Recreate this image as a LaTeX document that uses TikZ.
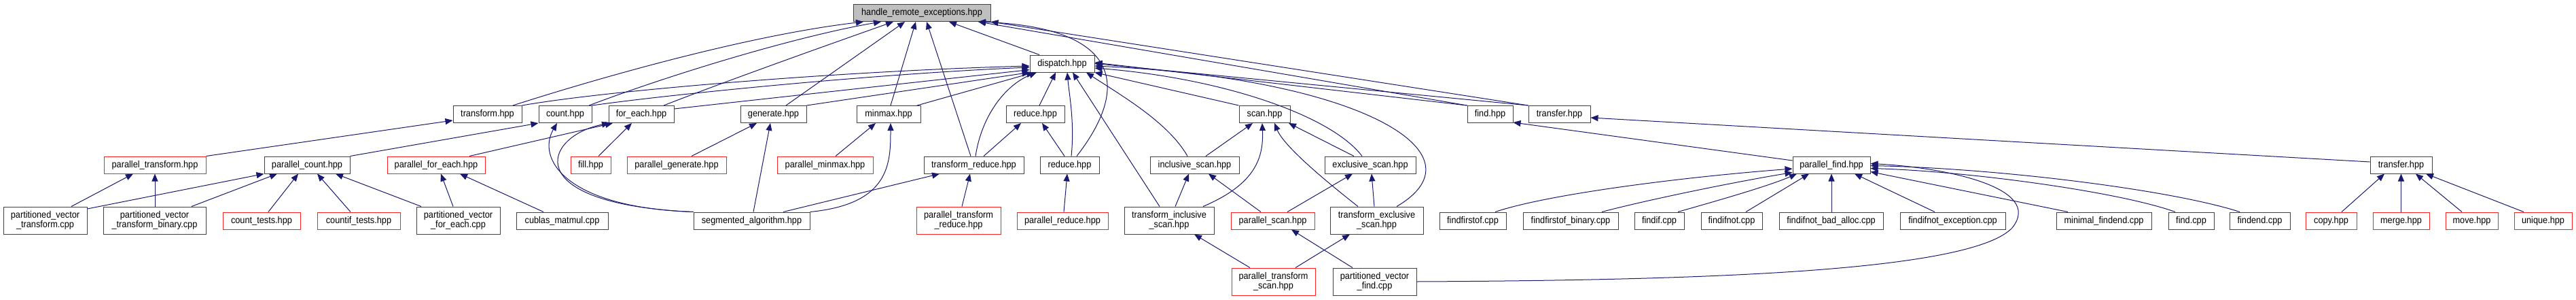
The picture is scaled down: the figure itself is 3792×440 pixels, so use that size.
\documentclass[tikz,border=0pt]{standalone}
\usepackage{fontspec}
\newfontfamily\nfont[FakeStretch=0.91]{Liberation Sans}
\usetikzlibrary{arrows.meta}
\definecolor{navy}{HTML}{191970}
\definecolor{boxgray}{HTML}{404040}
\definecolor{boxred}{HTML}{FF2020}
\definecolor{hrefill}{HTML}{BFBFBF}
\tikzset{
  bx/.style={draw=boxgray, fill=white, line width=1pt, inner sep=0pt, minimum height=25pt,
             align=center, font=\nfont\fontsize{14}{14.5}\selectfont},
  rbx/.style={bx, draw=boxred},
  bxd/.style={minimum height=40pt},
  lnk/.style={draw=navy, line width=1pt, -{Triangle[length=11pt,width=9pt]}}
}
\begin{document}
\begin{tikzpicture}[x=1pt,y=-1pt]
\fill[white] (0,0) rectangle (3792,440);
\useasboundingbox (0,0) rectangle (3792,440);
% row 0,1
\node[bx,fill=hrefill,minimum width=202pt] (hre) at (1357,19) {handle\_remote\_exceptions.hpp};
\node[bx,minimum width=95pt] (dispatch) at (1563.5,93.5) {dispatch.hpp};
% row 2
\node[bx,minimum width=101pt] (transform) at (717.5,168) {transform.hpp};
\node[bx,minimum width=78pt] (count) at (832,168) {count.hpp};
\node[bx,minimum width=96pt] (foreach) at (944,168) {for\_each.hpp};
\node[bx,minimum width=97pt] (generate) at (1138.5,168) {generate.hpp};
\node[bx,minimum width=94pt] (minmax) at (1308,168) {minmax.hpp};
\node[bx,minimum width=86pt] (reduceA) at (1524,168) {reduce.hpp};
\node[bx,minimum width=75pt] (scan) at (1861.5,168) {scan.hpp};
\node[bx,minimum width=67pt] (find) at (2193.5,168) {find.hpp};
\node[bx,minimum width=91pt] (transferA) at (2295.5,168) {transfer.hpp};
% row 3
\node[rbx,minimum width=150pt] (ptransform) at (228,242.5) {parallel\_transform.hpp};
\node[bx,minimum width=126pt] (pcount) at (452,242.5) {parallel\_count.hpp};
\node[rbx,minimum width=144pt] (pforeach) at (642,242.5) {parallel\_for\_each.hpp};
\node[rbx,minimum width=59pt] (fillh) at (869.5,242.5) {fill.hpp};
\node[rbx,minimum width=146pt] (pgenerate) at (996,242.5) {parallel\_generate.hpp};
\node[rbx,minimum width=141pt] (pminmax) at (1214.5,242.5) {parallel\_minmax.hpp};
\node[bx,minimum width=147pt] (treduce) at (1433.5,242.5) {transform\_reduce.hpp};
\node[bx,minimum width=87pt] (reduceB) at (1574.5,242.5) {reduce.hpp};
\node[bx,minimum width=131pt] (iscan) at (1758.5,242.5) {inclusive\_scan.hpp};
\node[bx,minimum width=134pt] (escan) at (2017,242.5) {exclusive\_scan.hpp};
\node[bx,minimum width=114pt] (pfind) at (2696,242.5) {parallel\_find.hpp};
\node[bx,minimum width=91pt] (transferB) at (3534.5,242.5) {transfer.hpp};
% row 4
\node[bx,bxd,minimum width=123pt] (pvt) at (66.5,324) {partitioned\_vector\\\_transform.cpp};
\node[bx,bxd,minimum width=151pt] (pvtb) at (227.5,324) {partitioned\_vector\\\_transform\_binary.cpp};
\node[rbx,minimum width=114pt] (counttests) at (385,324.5) {count\_tests.hpp};
\node[rbx,minimum width=122pt] (countiftests) at (528,324.5) {countif\_tests.hpp};
\node[bx,bxd,minimum width=123pt] (pvfe) at (674.5,324) {partitioned\_vector\\\_for\_each.cpp};
\node[bx,minimum width=135pt] (cublas) at (827.5,324.5) {cublas\_matmul.cpp};
\node[bx,minimum width=171pt] (segalg) at (1106.5,324.5) {segmented\_algorithm.hpp};
\node[rbx,bxd,minimum width=124pt] (ptreduce) at (1411,324) {parallel\_transform\\\_reduce.hpp};
\node[rbx,minimum width=134pt] (preduce) at (1564,324.5) {parallel\_reduce.hpp};
\node[bx,bxd,minimum width=132pt] (tiscan) at (1721,324) {transform\_inclusive\\\_scan.hpp};
\node[rbx,minimum width=123pt] (pscan) at (1873.5,324.5) {parallel\_scan.hpp};
\node[bx,bxd,minimum width=137pt] (tescan) at (2026.5,324) {transform\_exclusive\\\_scan.hpp};
\node[bx,minimum width=98pt] (findfirstof) at (2168,324.5) {findfirstof.cpp};
\node[bx,minimum width=140pt] (ffobin) at (2312,324.5) {findfirstof\_binary.cpp};
\node[bx,minimum width=73pt] (findif) at (2442.5,324.5) {findif.cpp};
\node[bx,minimum width=90pt] (findifnot) at (2549,324.5) {findifnot.cpp};
\node[bx,minimum width=153pt] (fnba) at (2695.5,324.5) {findifnot\_bad\_alloc.cpp};
\node[bx,minimum width=155pt] (fnex) at (2874.5,324.5) {findifnot\_exception.cpp};
\node[bx,minimum width=140pt] (minfe) at (3097,324.5) {minimal\_findend.cpp};
\node[bx,minimum width=67pt] (findcpp) at (3225.5,324.5) {find.cpp};
\node[bx,minimum width=89pt] (findendcpp) at (3326.5,324.5) {findend.cpp};
\node[rbx,minimum width=75pt] (copyh) at (3431.5,324.5) {copy.hpp};
\node[rbx,minimum width=83pt] (mergeh) at (3534.5,324.5) {merge.hpp};
\node[rbx,minimum width=77pt] (moveh) at (3638.5,324.5) {move.hpp};
\node[rbx,minimum width=85pt] (uniqueh) at (3743.5,324.5) {unique.hpp};
% row 5
\node[rbx,bxd,minimum width=123pt] (ptscan) at (1874.5,414) {parallel\_transform\\\_scan.hpp};
\node[bx,bxd,minimum width=123pt] (pvfind) at (2023.5,414) {partitioned\_vector\\\_find.cpp};
\coordinate (pvbend) at (2962,335);

% into handle_remote_exceptions
\draw[lnk] ([xshift=37.5pt]transform.north) .. controls (880,115) and (1100,52) .. ([xshift=-86pt]hre.south);
\draw[lnk] ([xshift=35pt]count.north) .. controls (1000,105) and (1180,52) .. ([xshift=-60pt]hre.south);
\draw[lnk] ([xshift=33pt]foreach.north) .. controls (1080,115) and (1230,62) .. ([xshift=-42pt]hre.south);
\draw[lnk] ([xshift=18.5pt]generate.north) -- ([xshift=-25pt]hre.south);
\draw[lnk] ([xshift=3pt]minmax.north) -- ([xshift=-9pt]hre.south);
\draw[lnk] ([xshift=-4.5pt]treduce.north) -- ([xshift=7pt]hre.south);
\draw[lnk] ([xshift=-33.5pt]dispatch.north) -- ([xshift=40pt]hre.south);
\draw[lnk] ([xshift=10.5pt]reduceB.north) .. controls (1670,120) and (1640,40) .. ([xshift=83pt]hre.south);
\draw[lnk] (find.north west) -- ([xshift=83pt]hre.south);
\draw[lnk] (transferA.north west) -- (hre.south east);

% into dispatch
\draw[lnk] (transform.north east) .. controls (900,132) and (1250,104) .. ([yshift=-3.5pt]dispatch.west);
\draw[lnk] (count.north east) .. controls (1000,137) and (1300,108) .. ([yshift=-5.5pt]dispatch.west);
\draw[lnk] ([yshift=8pt]foreach.east) -- ([yshift=-9pt]dispatch.west);
\draw[lnk] (generate.north east) -- (dispatch.south west);
\draw[lnk] ([xshift=42pt]minmax.north) -- ([xshift=-41.5pt]dispatch.south);
\draw[lnk] ([xshift=2.5pt]treduce.north) .. controls (1445,170) and (1480,125) .. ([xshift=-37.5pt]dispatch.south);
\draw[lnk] ([xshift=6pt]reduceA.north) -- ([xshift=-9.5pt]dispatch.south);
\draw[lnk] ([xshift=2.5pt]reduceB.north) .. controls (1582,180) and (1574,140) .. ([xshift=7.5pt]dispatch.south);
\draw[lnk] ([xshift=-14pt]tiscan.north) -- ([xshift=15.5pt]dispatch.south);
\draw[lnk] ([xshift=-10.5pt]iscan.north) .. controls (1720,180) and (1650,140) .. ([xshift=35.5pt]dispatch.south);
\draw[lnk] (scan.north west) -- (dispatch.south east);
\draw[lnk] ([xshift=-12pt]escan.north) .. controls (1960,170) and (1800,115) .. ([yshift=-6.5pt]dispatch.east);
\draw[lnk] ([xshift=29.5pt]tescan.north) .. controls (2190,225) and (2000,115) .. ([yshift=-3.5pt]dispatch.east);
\draw[lnk] (find.north west) -- ([yshift=1.5pt]dispatch.east);
\draw[lnk] (transferA.north west) -- (dispatch.east);

% row 2 parents
\draw[lnk] (ptransform.north east) -- ([yshift=-9pt]transform.west);
\draw[lnk] (pcount.north east) -- (count.south west);
\draw[lnk] ([xshift=49pt]pforeach.north) -- ([xshift=-42pt]foreach.south);
\draw[lnk] ([xshift=11.5pt]fillh.north) -- ([xshift=-14pt]foreach.south);
\draw[lnk] (segalg.north west) .. controls (830,305) and (790,232) .. ([xshift=-12pt]count.south);
\draw[lnk] (segalg.north west) .. controls (760,300) and (800,200) .. ([xshift=-47pt]foreach.south);
\draw[lnk] ([xshift=22pt]pgenerate.north) -- ([xshift=-24.5pt]generate.south);
\draw[lnk] ([xshift=2.5pt]segalg.north) -- ([xshift=-4.5pt]generate.south);
\draw[lnk] ([xshift=15.5pt]pminmax.north) -- ([xshift=-19pt]minmax.south);
\draw[lnk] (segalg.north east) .. controls (1310,300) and (1311,240) .. ([xshift=3pt]minmax.south);
\draw[lnk] ([xshift=46.5pt]segalg.north) -- ([xshift=-50.5pt]treduce.south);
\draw[lnk] ([xshift=14.5pt]treduce.north) -- ([xshift=-21pt]reduceA.south);
\draw[lnk] ([xshift=-7.5pt]reduceB.north) -- ([xshift=10pt]reduceA.south);
\draw[lnk] ([xshift=16.5pt]iscan.north) -- ([xshift=-17.5pt]scan.south);
\draw[lnk] ([xshift=50pt]tiscan.north) .. controls (1850,270) and (1860,230) .. ([xshift=-3.5pt]scan.south);
\draw[lnk] ([xshift=-24pt]escan.north) -- ([xshift=35.5pt]scan.south);
\draw[lnk] ([xshift=-27.5pt]tescan.north) .. controls (1950,265) and (1890,215) .. ([xshift=14.5pt]scan.south);
\draw[lnk] ([yshift=6.5pt]pfind.west) -- ([yshift=-12pt]find.east);
\draw[lnk] ([yshift=4.5pt]transferB.west) -- ([yshift=-5pt]transferA.east);

% row 3 parents
\draw[lnk] ([xshift=38.5pt]pvt.north) -- ([xshift=-32pt]ptransform.south);
\draw[lnk] ([xshift=0.5pt]pvtb.north) -- (ptransform.south);
\draw[lnk] ([yshift=17pt]pvt.east) -- (pcount.south west);
\draw[lnk] ([xshift=54.5pt]pvtb.north) -- ([xshift=-44pt]pcount.south);
\draw[lnk] ([xshift=10pt]counttests.north) -- ([xshift=-13pt]pcount.south);
\draw[lnk] ([xshift=-12pt]countiftests.north) -- ([xshift=15pt]pcount.south);
\draw[lnk] ([xshift=-54.5pt]pvfe.north) -- ([xshift=42pt]pcount.south);
\draw[lnk] ([xshift=-7.5pt]pvfe.north) -- ([xshift=7pt]pforeach.south);
\draw[lnk] ([xshift=-27.5pt]cublas.north) -- ([xshift=35pt]pforeach.south);
\draw[lnk] ([xshift=5pt]ptreduce.north) -- ([xshift=-5.5pt]treduce.south);
\draw[lnk] ([xshift=2pt]preduce.north) -- ([xshift=-3.5pt]reduceB.south);
\draw[lnk] ([xshift=9pt]tiscan.north) -- ([xshift=-8.5pt]iscan.south);
\draw[lnk] ([xshift=-17.5pt]pscan.north) -- ([xshift=20.5pt]iscan.south);
\draw[lnk] ([xshift=21.5pt]pscan.north) -- ([xshift=-26pt]escan.south);
\draw[lnk] ([xshift=-3.5pt]tescan.north) -- ([xshift=2pt]escan.south);
\draw[lnk] ([xshift=33pt]findfirstof.north) .. controls (2280,285) and (2480,260) .. ([yshift=-5.5pt]pfind.west);
\draw[lnk] ([xshift=46pt]ffobin.north) .. controls (2420,295) and (2550,268) .. ([yshift=-11pt]pfind.west);
\draw[lnk] ([xshift=27.5pt]findif.north) .. controls (2510,300) and (2600,275) .. ([xshift=-51pt]pfind.south);
\draw[lnk] ([xshift=21pt]findifnot.north) -- ([xshift=-33pt]pfind.south);
\draw[lnk] ([xshift=0.5pt]fnba.north) -- (pfind.south);
\draw[lnk] ([xshift=-26.5pt]fnex.north) -- ([xshift=34pt]pfind.south);
\draw[lnk] ([xshift=-53pt]minfe.north) -- ([yshift=-10pt]pfind.east);
\draw[lnk] ([xshift=-23.5pt]findcpp.north) .. controls (3120,282) and (2900,252) .. ([yshift=-5pt]pfind.east);
\draw[lnk] ([xshift=-29.5pt]findendcpp.north) .. controls (3200,280) and (2950,248) .. ([yshift=-1pt]pfind.east);
\draw[lnk] (pvfind.east) .. controls (2500,412) and (2900,400) .. (pvbend) .. controls (3010,275) and (2860,246) .. ([yshift=2pt]pfind.east);
\draw[lnk] ([xshift=15.5pt]copyh.north) -- ([xshift=-24.5pt]transferB.south);
\draw[lnk] (mergeh.north) -- (transferB.south);
\draw[lnk] ([xshift=-14.5pt]moveh.north) -- ([xshift=21.5pt]transferB.south);
\draw[lnk] ([xshift=-28.5pt]uniqueh.north) -- ([xshift=36.5pt]transferB.south);

% row 4 parents
\draw[lnk] ([xshift=-34.5pt]ptscan.north) -- ([xshift=37pt]tiscan.south);
\draw[lnk] ([xshift=32.5pt]ptscan.north) -- ([xshift=-39.5pt]tescan.south);
\draw[lnk] ([xshift=-32.5pt]pvfind.north) -- ([xshift=27.5pt]pscan.south);
\end{tikzpicture}
\end{document}
